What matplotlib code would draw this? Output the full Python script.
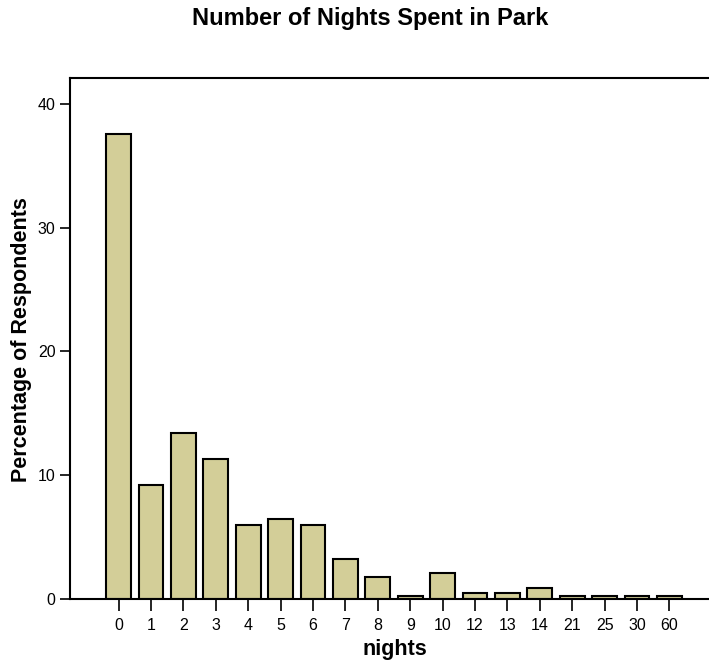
import matplotlib
matplotlib.use("Agg")
import matplotlib.pyplot as plt

plt.rcParams['font.family'] = ['Liberation Sans', 'DejaVu Sans']

nights = ['0', '1', '2', '3', '4', '5', '6', '7', '8', '9', '10',
          '12', '13', '14', '21', '25', '30', '60']
percent = [37.6, 9.2, 13.4, 11.3, 6.0, 6.46, 6.0, 3.2, 1.8, 0.23, 2.1,
           0.46, 0.46, 0.92, 0.23, 0.23, 0.23, 0.23]

W, H = 709, 661
fig = plt.figure(figsize=(W / 100, H / 100), dpi=100)

# axes run past the right edge, like the original
left, right, top, bottom = 70, 718, 78, 599
ax = fig.add_axes([left / W, 1 - bottom / H, (right - left) / W, (bottom - top) / H])

pos = list(range(len(nights)))
ax.bar(pos, percent, width=0.76, color='#d3ce98', edgecolor='black', linewidth=1.5)

ax.set_xlim(-1.5, 18.5)
ax.set_ylim(0, 42.1)
ax.set_xticks(pos)
ax.set_xticklabels(nights)
ax.set_yticks([0, 10, 20, 30, 40])

for s in ['left', 'top', 'bottom']:
    ax.spines[s].set_linewidth(1.5)
ax.spines['right'].set_visible(False)

ax.tick_params(axis='y', direction='out', length=7.5, width=1.2, labelsize=11.5, pad=3)
ax.tick_params(axis='x', direction='out', length=8.5, width=1.2, labelsize=11.5, pad=5)

# labels placed by hand so they sit where the original has them
fig.text(395 / W, 1 - 650 / H, 'nights', fontsize=15.5, fontweight='bold',
         ha='center', va='center')
fig.text(22 / W, 1 - 340 / H, 'Percentage of Respondents', fontsize=15.5,
         fontweight='bold', ha='center', va='center', rotation=90)
fig.text(370 / W, 1 - 18 / H, 'Number of Nights Spent in Park', fontsize=17,
         fontweight='bold', ha='center', va='center')

fig.savefig('out.png', dpi=100)
